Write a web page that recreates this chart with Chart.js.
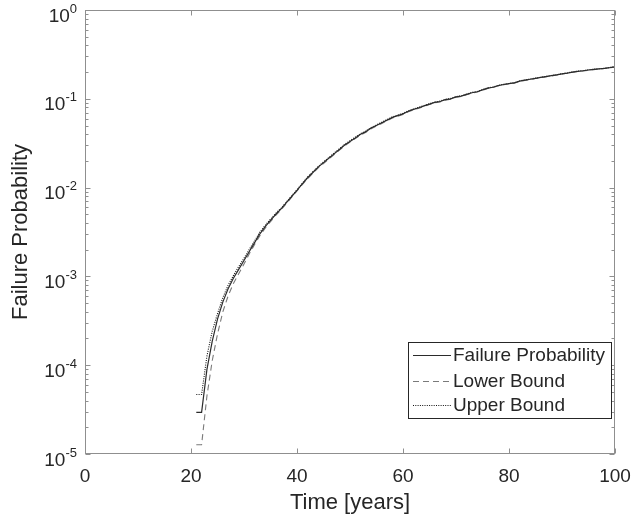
<!DOCTYPE html>
<html><head><meta charset="utf-8">
<script src="https://cdn.jsdelivr.net/npm/chart.js@4/dist/chart.umd.min.js"></script>
<style>html,body{margin:0;padding:0;background:#fff;} canvas{display:block;}</style>
</head><body>
<canvas id="c" width="635" height="525"></canvas>
<script>
const years = [21,22,23,24,25,26,27,28,29,30,31,32,33,34,35,36,37,38,39,40,
  41,42,43,44,45,46,47,48,49,50,51,52,53,54,55,56,57,58,59,60,
  61,62,63,64,65,66,67,68,69,70,71,72,73,74,75,76,77,78,79,80,
  81,82,83,84,85,86,87,88,89,90,91,92,93,94,95,96,97,98,99,100];

const failureProbability = [2.95e-5,2.95e-5,8.91e-5,1.86e-4,3.31e-4,5.13e-4,7.24e-4,9.55e-4,1.20e-3,1.51e-3,
  1.91e-3,2.40e-3,3.02e-3,3.63e-3,4.27e-3,5.01e-3,5.75e-3,6.76e-3,7.94e-3,9.33e-3,
  1.10e-2,1.29e-2,1.48e-2,1.70e-2,1.91e-2,2.14e-2,2.40e-2,2.69e-2,3.02e-2,3.31e-2,
  3.63e-2,3.98e-2,4.27e-2,4.68e-2,5.01e-2,5.37e-2,5.75e-2,6.17e-2,6.46e-2,6.76e-2,
  7.24e-2,7.59e-2,7.94e-2,8.32e-2,8.71e-2,9.12e-2,9.33e-2,9.77e-2,0.100,0.105,
  0.107,0.112,0.117,0.120,0.126,0.132,0.135,0.141,0.145,0.148,
  0.151,0.158,0.162,0.166,0.170,0.174,0.178,0.182,0.186,0.191,
  0.195,0.200,0.204,0.207,0.211,0.214,0.217,0.220,0.224,0.229];

const lowerBound = [1.27e-5,1.27e-5,4.47e-5,1.12e-4,2.24e-4,3.98e-4,6.03e-4,8.32e-4,1.07e-3,1.38e-3,
  1.80e-3,2.29e-3,2.88e-3,3.50e-3,4.14e-3,4.88e-3,5.62e-3,6.63e-3,7.80e-3,9.20e-3,
  1.08e-2,1.26e-2,1.45e-2,1.67e-2,1.87e-2,2.10e-2,2.35e-2,2.64e-2,2.96e-2,3.25e-2,
  3.56e-2,3.91e-2,4.19e-2,4.60e-2,4.92e-2,5.28e-2,5.65e-2,6.07e-2,6.36e-2,6.66e-2,
  7.14e-2,7.49e-2,7.84e-2,8.22e-2,8.61e-2,9.02e-2,9.23e-2,9.67e-2,0.0990,0.104,
  0.106,0.111,0.116,0.119,0.125,0.131,0.134,0.140,0.144,0.147,
  0.150,0.157,0.161,0.165,0.169,0.173,0.177,0.181,0.185,0.190,
  0.194,0.199,0.203,0.206,0.210,0.213,0.216,0.219,0.223,0.228];

const upperBound = [4.68e-5,4.68e-5,1.26e-4,2.40e-4,3.80e-4,5.75e-4,7.94e-4,1.02e-3,1.29e-3,1.60e-3,
  2.02e-3,2.51e-3,3.16e-3,3.76e-3,4.40e-3,5.14e-3,5.88e-3,6.90e-3,8.09e-3,9.46e-3,
  1.12e-2,1.32e-2,1.51e-2,1.73e-2,1.95e-2,2.18e-2,2.45e-2,2.74e-2,3.08e-2,3.37e-2,
  3.70e-2,4.05e-2,4.35e-2,4.76e-2,5.10e-2,5.46e-2,5.85e-2,6.27e-2,6.56e-2,6.86e-2,
  7.34e-2,7.69e-2,8.04e-2,8.42e-2,8.81e-2,9.22e-2,9.43e-2,9.87e-2,0.101,0.106,
  0.108,0.113,0.118,0.121,0.127,0.133,0.136,0.142,0.146,0.149,
  0.152,0.159,0.163,0.167,0.171,0.175,0.179,0.183,0.187,0.192,
  0.196,0.201,0.205,0.208,0.212,0.215,0.218,0.221,0.225,0.230];

const seriesLabels = ['Failure Probability', 'Lower Bound', 'Upper Bound'];
const xTicks = [0, 20, 40, 60, 80, 100];
const yTickExponents = [0, -1, -2, -3, -4, -5];

const FONT = '"Liberation Sans", Arial, Helvetica, sans-serif';
const TEXT = '#262626';
const AXIS = '#8f8f8f';

function pts(vals) { return years.map((x, i) => ({x: x, y: vals[i]})); }

const matlabAxes = {
  id: 'matlabAxes',
  afterDatasetsDraw(chart) {
    const ctx = chart.ctx;
    const a = chart.chartArea;
    const xs = chart.scales.x, ys = chart.scales.y;
    ctx.save();
    ctx.strokeStyle = AXIS;
    ctx.lineWidth = 1;
    ctx.setLineDash([]);
    const L = Math.round(a.left) + 0.5, R = Math.round(a.right) - 0.5;
    const T = Math.round(a.top) + 0.5, B = Math.round(a.bottom) - 0.5;
    ctx.strokeRect(L, T, R - L, B - T);
    ctx.beginPath();
    xTicks.forEach(v => {
      const px = Math.round(xs.getPixelForValue(v)) + 0.5;
      ctx.moveTo(px, B); ctx.lineTo(px, B - 5);
      ctx.moveTo(px, T); ctx.lineTo(px, T + 5);
    });
    yTickExponents.forEach(k => {
      for (let m = 1; m <= 9; m++) {
        const v = m * Math.pow(10, k - 1);
        if (v < ys.min * 0.999 || v > ys.max * 1.001) continue;
        const py = Math.round(ys.getPixelForValue(v)) + 0.5;
        const len = m === 1 ? 5 : 3;
        ctx.moveTo(L, py); ctx.lineTo(L + len, py);
        ctx.moveTo(R, py); ctx.lineTo(R - len, py);
      }
    });
    ctx.stroke();

    // y tick labels 10^k
    ctx.fillStyle = TEXT;
    ctx.textBaseline = 'alphabetic';
    ctx.textAlign = 'right';
    yTickExponents.forEach(k => {
      const py = ys.getPixelForValue(Math.pow(10, k));
      const exp = k === 0 ? '0' : '-' + Math.abs(k);
      const xr = a.left - 8;
      ctx.font = '13px ' + FONT;
      ctx.fillText(exp, xr, py + 2.5);
      const ew = ctx.measureText(exp).width;
      ctx.font = '19px ' + FONT;
      ctx.fillText('10', xr - ew, py + 11.5);
    });

    // legend
    const lx = 408.5, ly = 342.5, lw = 203, lh = 76;
    ctx.fillStyle = '#fff';
    ctx.fillRect(lx, ly, lw, lh);
    ctx.strokeStyle = '#262626';
    ctx.lineWidth = 1;
    ctx.strokeRect(lx, ly, lw, lh);
    const rows = [355, 381, 405];
    chart.data.datasets.forEach((ds, i) => {
      ctx.beginPath();
      ctx.strokeStyle = ds.borderColor;
      ctx.lineWidth = 1;
      ctx.setLineDash(ds.borderDash || []);
      ctx.moveTo(413, rows[i] + 0.5); ctx.lineTo(451, rows[i] + 0.5);
      ctx.stroke();
      ctx.setLineDash([]);
      ctx.fillStyle = TEXT;
      ctx.font = '19px ' + FONT;
      ctx.textAlign = 'left';
      ctx.textBaseline = 'middle';
      ctx.fillText(ds.label, 453, rows[i] + 1);
    });
    ctx.restore();
  }
};

new Chart(document.getElementById('c'), {
  type: 'line',
  data: {
    datasets: [
      {label: seriesLabels[0], data: pts(failureProbability), borderColor: '#2b2b2b', borderWidth: 1.2, borderDash: [], pointRadius: 0, tension: 0, fill: false},
      {label: seriesLabels[1], data: pts(lowerBound), borderColor: '#7a7a7a', borderWidth: 1.1, borderDash: [6, 4], pointRadius: 0, tension: 0, fill: false},
      {label: seriesLabels[2], data: pts(upperBound), borderColor: '#111111', borderWidth: 1.1, borderDash: [1, 1.3], pointRadius: 0, tension: 0, fill: false}
    ]
  },
  options: {
    responsive: false,
    animation: false,
    devicePixelRatio: 1,
    layout: {padding: {top: 10, right: 20, left: 0, bottom: 0}},
    plugins: {legend: {display: false}, tooltip: {enabled: false}},
    scales: {
      x: {
        type: 'linear', min: 0, max: 100,
        afterFit: s => { s.height = 71; s.paddingLeft = 0; s.paddingRight = 0; },
        afterBuildTicks: s => { s.ticks = xTicks.map(v => ({value: v})); },
        grid: {display: false, drawTicks: false},
        border: {display: false},
        ticks: {font: {size: 19, family: FONT}, color: TEXT, padding: 11, maxRotation: 0, autoSkip: false},
        title: {display: true, text: 'Time [years]', font: {size: 22, family: FONT}, color: TEXT, padding: {top: 0, bottom: 9}}
      },
      y: {
        type: 'logarithmic', min: 1e-5, max: 1,
        afterFit: s => { s.width = 85; s.paddingTop = 0; s.paddingBottom = 0; },
        grid: {display: false, drawTicks: false},
        border: {display: false},
        ticks: {display: false},
        title: {display: true, text: 'Failure Probability', font: {size: 22, family: FONT}, color: TEXT, padding: {top: 8, bottom: 0}}
      }
    }
  },
  plugins: [matlabAxes]
});
</script>
</body></html>
